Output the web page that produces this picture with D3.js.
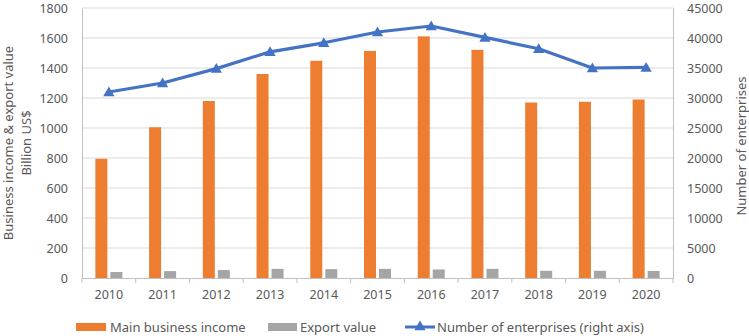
<!DOCTYPE html>
<html>
<head>
<meta charset="utf-8">
<script src="https://cdn.jsdelivr.net/npm/d3@7"></script>
<style>
  body { margin: 0; background: #fff; }
  svg text { font-family: "Noto Sans", "Open Sans", sans-serif; fill: #595959; }
</style>
</head>
<body>
<div id="chart"></div>
<script>
const years = ["2010", "2011", "2012", "2013", "2014", "2015", "2016", "2017", "2018", "2019", "2020"];
const mainIncome = [795, 1005, 1180, 1360, 1448, 1514, 1611, 1521, 1170, 1175, 1190];
const exportValue = [40, 46, 53, 61, 59, 61, 57, 61, 48, 48, 47];
const enterprises = [31000, 32500, 34900, 37700, 39200, 41000, 42000, 40100, 38200, 35000, 35100];
const leftTicks = [0, 200, 400, 600, 800, 1000, 1200, 1400, 1600, 1800];
const rightTicks = [0, 5000, 10000, 15000, 20000, 25000, 30000, 35000, 40000, 45000];

let W = 749, H = 336;
let margin = { top: 8, right: 76, bottom: 58, left: 82 };
let width = W - margin.left - margin.right;
let height = H - margin.top - margin.bottom;

let svg = d3.select("#chart").append("svg")
    .attr("width", W)
    .attr("height", H);

let g = svg.append("g")
    .attr("transform", `translate(${margin.left},${margin.top})`);

let x = d3.scaleBand().domain(years).range([0, width]);
let x1 = d3.scaleBand().domain(["income", "export"]).range([-13.5, 13.5]).paddingInner(0.2);
let y = d3.scaleLinear().domain([0, 1800]).range([height, 0]);
let y2 = d3.scaleLinear().domain([0, 45000]).range([height, 0]);

// gridlines
g.append("g")
    .selectAll("line")
    .data(leftTicks.filter(d => d > 0))
    .enter().append("line")
    .attr("x1", 0).attr("x2", width)
    .attr("y1", d => y(d)).attr("y2", d => y(d))
    .attr("stroke", "#d9d9d9").attr("stroke-width", 1);

// left axis
let yAxis = g.append("g")
    .call(d3.axisLeft(y).tickValues(leftTicks).tickFormat(d3.format("d")).tickSize(0).tickPadding(14));
yAxis.select(".domain").attr("stroke", "#bfbfbf");
yAxis.selectAll("text").style("font-size", "12.5px").attr("fill", "#595959");

// right axis
let yAxis2 = g.append("g")
    .attr("transform", `translate(${width},0)`)
    .call(d3.axisRight(y2).tickValues(rightTicks).tickFormat(d3.format("d")).tickSize(0).tickPadding(14));
yAxis2.select(".domain").attr("stroke", "#bfbfbf");
yAxis2.selectAll("text").style("font-size", "12.5px").attr("fill", "#595959");

// x axis
let xAxis = g.append("g")
    .attr("transform", `translate(0,${height})`)
    .call(d3.axisBottom(x).tickSize(0).tickPadding(12));
xAxis.select(".domain").attr("stroke", "#bfbfbf");
xAxis.selectAll("text").style("font-size", "12.5px").attr("fill", "#595959");
// category separator ticks
xAxis.selectAll(".sep")
    .data(years.concat(["end"]))
    .enter().append("line")
    .attr("class", "sep")
    .attr("x1", (d, i) => i * x.step()).attr("x2", (d, i) => i * x.step())
    .attr("y1", 0).attr("y2", 5)
    .attr("stroke", "#bfbfbf");

// bars
g.selectAll(".bar-income")
    .data(years)
    .enter().append("rect")
    .attr("class", "bar-income")
    .attr("x", d => x(d) + x.bandwidth() / 2 + x1("income"))
    .attr("width", x1.bandwidth())
    .attr("y", (d, i) => y(mainIncome[i]))
    .attr("height", (d, i) => height - y(mainIncome[i]))
    .attr("fill", "#ed7d31");

g.selectAll(".bar-export")
    .data(years)
    .enter().append("rect")
    .attr("class", "bar-export")
    .attr("x", d => x(d) + x.bandwidth() / 2 + x1("export"))
    .attr("width", x1.bandwidth())
    .attr("y", (d, i) => y(exportValue[i]))
    .attr("height", (d, i) => height - y(exportValue[i]))
    .attr("fill", "#a5a5a5");

// line
let line = d3.line()
    .x((d, i) => x(years[i]) + x.bandwidth() / 2)
    .y(d => y2(d));

g.append("path")
    .datum(enterprises)
    .attr("d", line)
    .attr("fill", "none")
    .attr("stroke", "#4472c4")
    .attr("stroke-width", 3.2)
    .attr("stroke-linejoin", "round");

let tri = d3.symbol().type(d3.symbolTriangle).size(55);
g.selectAll(".marker")
    .data(enterprises)
    .enter().append("path")
    .attr("class", "marker")
    .attr("d", tri)
    .attr("transform", (d, i) => `translate(${x(years[i]) + x.bandwidth() / 2},${y2(d) + 1})`)
    .attr("fill", "#4472c4");

// axis titles
let lt = svg.append("text")
    .attr("transform", `translate(13,${margin.top + height / 2}) rotate(-90)`)
    .attr("text-anchor", "middle")
    .style("font-size", "13px");
lt.append("tspan").attr("x", 0).attr("y", 0).text("Business income & export value");
lt.append("tspan").attr("x", 0).attr("y", 18).text("Billion US$");

svg.append("text")
    .attr("transform", `translate(746,${margin.top + height / 2 + 3}) rotate(-90)`)
    .attr("text-anchor", "middle")
    .style("font-size", "13px")
    .text("Number of enterprises");

// legend
let legend = svg.append("g").attr("transform", "translate(0,327)");
legend.append("rect").attr("x", 76).attr("y", -4).attr("width", 30).attr("height", 8).attr("fill", "#ed7d31");
legend.append("text").attr("x", 110).attr("y", 0).attr("dy", "0.35em").style("font-size", "13px").text("Main business income");
legend.append("rect").attr("x", 268).attr("y", -4).attr("width", 29).attr("height", 8).attr("fill", "#a5a5a5");
legend.append("text").attr("x", 300).attr("y", 0).attr("dy", "0.35em").style("font-size", "13px").text("Export value");
legend.append("line").attr("x1", 405).attr("x2", 435).attr("y1", 0).attr("y2", 0).attr("stroke", "#4472c4").attr("stroke-width", 3);
legend.append("path").attr("d", tri).attr("transform", "translate(420,0)").attr("fill", "#4472c4");
legend.append("text").attr("x", 437).attr("y", 0).attr("dy", "0.35em").style("font-size", "13px").text("Number of enterprises (right axis)");
</script>
</body>
</html>
